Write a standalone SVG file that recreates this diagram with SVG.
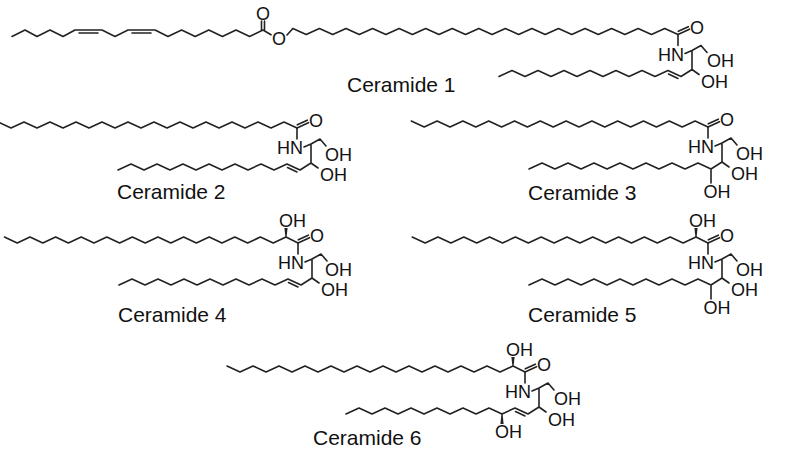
<svg xmlns="http://www.w3.org/2000/svg" width="800" height="450" viewBox="0 0 800 450">
<style>
.b{fill:none;stroke:#222;stroke-width:1.6;stroke-linejoin:round;stroke-linecap:round}
.w{fill:#222;stroke:none}
.a{font-family:"Liberation Sans",Arial,sans-serif;font-size:18px;fill:#111}
.l{font-family:"Liberation Sans",Arial,sans-serif;font-size:21px;fill:#111}
</style>
<rect width="800" height="450" fill="#fff"/>

<g id="ceramide-1">
  <path class="b" d="M12,36.5 L25,30 37,36.5 50,30 63,36.5 75,30 102,30 115,36.5 128,30 155,30 168,36.5 181.6,30 195.2,36.5 208.8,30 222.4,36.5 236,30 249.6,36.5 263,30 L271,34.8 M287,35 L292.9,28.5"/>
  <path class="b" d="M79,33 H98 M132,33 H151 M261.5,30 V21 M264.5,30 V21"/>
  <text class="a" x="263" y="19.5" text-anchor="middle">O</text>
  <text class="a" x="279" y="44.5" text-anchor="middle">O</text>
  <g transform="translate(678,34.5)">
    <path class="b" d="M0,0 l-13.28,-6 -13.28,6 -13.28,-6 -13.28,6 -13.28,-6 -13.28,6 -13.28,-6 -13.28,6 -13.28,-6 -13.28,6 -13.28,-6 -13.28,6 -13.28,-6 -13.28,6 -13.28,-6 -13.28,6 -13.28,-6 -13.28,6 -13.28,-6 -13.28,6 -13.28,-6 -13.28,6 -13.28,-6 -13.28,6 -13.28,-6 -13.28,6 -13.28,-6 -13.28,6 -13.28,-6"/>
    <path class="b" d="M0,0 V11 M7,19 L14,16 L23,11 L29,18 M14,16 V35 L21,40 M14,35 L3,42 L-10,36 l-13,6 -13,-6 -13,6 -13,-6 -13,6 -13,-6 -13,6 -13,-6 -13,6 -13,-6 -13,6 -13,-6 -13,6"/>
    <path class="b" d="M0,0 L11.5,-5.3 M0.3,-3.2 L10.3,-7.8 M-9.5,39.5 L0,43.9"/>
    <text class="a" x="19" y="-1" text-anchor="middle">O</text>
    <text class="a" x="6" y="26" text-anchor="end">HN</text>
    <text class="a" x="29" y="32.5">OH</text>
    <text class="a" x="23" y="53">OH</text>
  </g>
  <text class="l" x="347" y="92">Ceramide 1</text>
</g>

<g id="ceramide-2">
  <g transform="translate(297,128)">
    <path class="b" d="M0,0 l-13,-6 -13,6 -13,-6 -13,6 -13,-6 -13,6 -13,-6 -13,6 -13,-6 -13,6 -13,-6 -13,6 -13,-6 -13,6 -13,-6 -13,6 -13,-6 -13,6 -13,-6 -13,6 -13,-6 -13,6 -13,-6"/>
    <path class="b" d="M0,0 V11 M7,19 L14,16 L23,11 L29,18 M14,16 V35 L21,40 M14,35 L3,42 L-10,36 l-13,6 -13,-6 -13,6 -13,-6 -13,6 -13,-6 -13,6 -13,-6 -13,6 -13,-6 -13,6 -13,-6 -13,6"/>
    <path class="b" d="M0,0 L11.5,-5.3 M0.3,-3.2 L10.3,-7.8 M-9.5,39.5 L0,43.9"/>
    <text class="a" x="19" y="-1" text-anchor="middle">O</text>
    <text class="a" x="6" y="26" text-anchor="end">HN</text>
    <text class="a" x="28" y="32.5">OH</text>
    <text class="a" x="23" y="53">OH</text>
  </g>
  <text class="l" x="117" y="199">Ceramide 2</text>
</g>

<g id="ceramide-3">
  <g transform="translate(708,127)">
    <path class="b" d="M0,0 l-12.9,-6 -12.9,6 -12.9,-6 -12.9,6 -12.9,-6 -12.9,6 -12.9,-6 -12.9,6 -12.9,-6 -12.9,6 -12.9,-6 -12.9,6 -12.9,-6 -12.9,6 -12.9,-6 -12.9,6 -12.9,-6 -12.9,6 -12.9,-6 -12.9,6 -12.9,-6 -12.9,6 -12.9,-6"/>
    <path class="b" d="M0,0 V11 M7,19 L14,16 L23,11 L29,18 M14,16 V35 L21,40 M14,35 L3,42 L-10,36 l-13,6 -13,-6 -13,6 -13,-6 -13,6 -13,-6 -13,6 -13,-6 -13,6 -13,-6 -13,6 -13,-6 -13,6 M3,42 V56"/>
    <path class="b" d="M0,0 L11.5,-5.3 M0.3,-3.2 L10.3,-7.8"/>
    <text class="a" x="19" y="-1" text-anchor="middle">O</text>
    <text class="a" x="6" y="26" text-anchor="end">HN</text>
    <text class="a" x="28" y="32.5">OH</text>
    <text class="a" x="23" y="53">OH</text>
    <text class="a" x="-4.5" y="71">OH</text>
  </g>
  <text class="l" x="528" y="200">Ceramide 3</text>
</g>

<g id="ceramide-4">
  <g transform="translate(298,243)">
    <path class="b" d="M0,0 l-12,-6 -12.8,6 -12.8,-6 -12.8,6 -12.8,-6 -12.8,6 -12.8,-6 -12.8,6 -12.8,-6 -12.8,6 -12.8,-6 -12.8,6 -12.8,-6 -12.8,6 -12.8,-6 -12.8,6 -12.8,-6 -12.8,6 -12.8,-6 -12.8,6 -12.8,-6 -12.8,6 -12.8,-6"/>
    <polygon class="w" points="-12.6,-6 -11.4,-6 -10.4,-15 -13.6,-15"/>
    <path class="b" d="M0,0 V11 M7,19 L14,16 L23,11 L29,18 M14,16 V35 L21,40 M14,35 L3,42 L-10,36 l-13,6 -13,-6 -13,6 -13,-6 -13,6 -13,-6 -13,6 -13,-6 -13,6 -13,-6 -13,6 -13,-6 -13,6"/>
    <path class="b" d="M0,0 L11.5,-5.3 M0.3,-3.2 L10.3,-7.8 M-9.5,39.5 L0,43.9"/>
    <text class="a" x="-19" y="-16.5">OH</text>
    <text class="a" x="19" y="-1" text-anchor="middle">O</text>
    <text class="a" x="6" y="26" text-anchor="end">HN</text>
    <text class="a" x="27" y="32.5">OH</text>
    <text class="a" x="23" y="53">OH</text>
  </g>
  <text class="l" x="118" y="322">Ceramide 4</text>
</g>

<g id="ceramide-5">
  <g transform="translate(708,243)">
    <path class="b" d="M0,0 l-12,-6 -12.9,6 -12.9,-6 -12.9,6 -12.9,-6 -12.9,6 -12.9,-6 -12.9,6 -12.9,-6 -12.9,6 -12.9,-6 -12.9,6 -12.9,-6 -12.9,6 -12.9,-6 -12.9,6 -12.9,-6 -12.9,6 -12.9,-6 -12.9,6 -12.9,-6 -12.9,6 -12.9,-6"/>
    <polygon class="w" points="-12.6,-6 -11.4,-6 -10.4,-15 -13.6,-15"/>
    <path class="b" d="M0,0 V11 M7,19 L14,16 L23,11 L29,18 M14,16 V35 L21,40 M14,35 L3,42 L-10,36 l-13,6 -13,-6 -13,6 -13,-6 -13,6 -13,-6 -13,6 -13,-6 -13,6 -13,-6 -13,6 -13,-6 -13,6 M3,42 V56"/>
    <path class="b" d="M0,0 L11.5,-5.3 M0.3,-3.2 L10.3,-7.8"/>
    <text class="a" x="-19" y="-16.5">OH</text>
    <text class="a" x="19" y="-1" text-anchor="middle">O</text>
    <text class="a" x="6" y="26" text-anchor="end">HN</text>
    <text class="a" x="28" y="32.5">OH</text>
    <text class="a" x="23" y="53">OH</text>
    <text class="a" x="-4.5" y="71">OH</text>
  </g>
  <text class="l" x="528" y="322">Ceramide 5</text>
</g>

<g id="ceramide-6">
  <g transform="translate(525,372)">
    <path class="b" d="M0,0 l-12,-6 -13,6 -13,-6 -13,6 -13,-6 -13,6 -13,-6 -13,6 -13,-6 -13,6 -13,-6 -13,6 -13,-6 -13,6 -13,-6 -13,6 -13,-6 -13,6 -13,-6 -13,6 -13,-6 -13,6 -13,-6"/>
    <polygon class="w" points="-12.6,-6 -11.4,-6 -10.4,-15 -13.6,-15"/>
    <path class="b" d="M0,0 V11 M7,19 L14,16 L23,11 L29,18 M14,16 V35 L21,40 M14,35 L3,42 L-10,36 l-13,6 -13,-6 -13,6 -13,-6 -13,6 -13,-6 -13,6 -13,-6 -13,6 -13,-6 -13,6 -13,-6 -13,6"/>
    <path class="b" d="M0,0 L11.5,-5.3 M0.3,-3.2 L10.3,-7.8 M-9.5,39.5 L0,43.9"/>
    <polygon class="w" points="-23.6,42 -22.4,42 -21.4,52 -24.6,52"/>
    <text class="a" x="-19" y="-16.5">OH</text>
    <text class="a" x="19" y="-1" text-anchor="middle">O</text>
    <text class="a" x="6" y="26" text-anchor="end">HN</text>
    <text class="a" x="29" y="33">OH</text>
    <text class="a" x="23" y="53.5">OH</text>
    <text class="a" x="-30" y="66">OH</text>
  </g>
  <text class="l" x="313" y="445">Ceramide 6</text>
</g>
</svg>
